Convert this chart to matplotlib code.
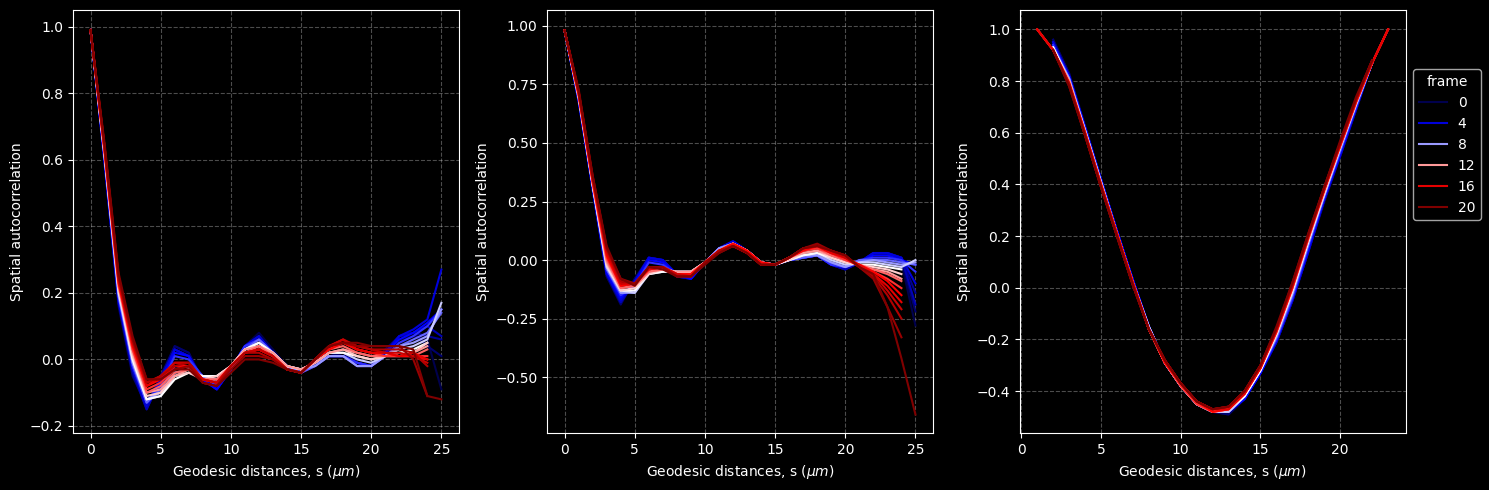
import numpy as np
import matplotlib
matplotlib.use('Agg')
import matplotlib.pyplot as plt
from matplotlib.lines import Line2D

na = np.nan

# frames (hue) and distances
frames = list(range(21))
legend_frames = [0, 4, 8, 12, 16, 20]
dist_ab = list(range(26))
dist_c = list(range(24))

# panel 1: spatial autocorrelation per frame, s = 0..25
corr_a = [
    [0.99, 0.60, 0.17, -0.04, -0.13, -0.06, 0.04, 0.02, -0.06, -0.08, -0.03, 0.04, 0.08, 0.03, -0.02, -0.04, -0.01, 0.02, 0.02, -0.01, -0.02, 0.02, 0.06, 0.07, 0.06, -0.09],
    [0.99, 0.59, 0.16, -0.05, -0.14, -0.05, 0.04, 0.02, -0.07, -0.08, -0.03, 0.04, 0.07, 0.02, -0.02, -0.04, -0.01, 0.02, 0.01, -0.01, -0.02, 0.03, 0.07, 0.08, 0.04, 0.01],
    [0.99, 0.59, 0.17, -0.04, -0.15, -0.05, 0.03, 0.01, -0.06, -0.09, -0.03, 0.04, 0.07, 0.02, -0.02, -0.04, -0.02, 0.01, 0.01, -0.01, -0.02, 0.02, 0.07, 0.08, 0.07, 0.06],
    [0.99, 0.60, 0.17, -0.03, -0.15, -0.06, 0.03, 0.01, -0.06, -0.09, -0.03, 0.04, 0.07, 0.02, -0.02, -0.04, -0.01, 0.01, 0.01, -0.01, -0.02, 0.02, 0.07, 0.08, 0.10, 0.07],
    [0.99, 0.60, 0.18, -0.03, -0.14, -0.06, 0.03, 0.01, -0.06, -0.09, -0.03, 0.04, 0.07, 0.02, -0.02, -0.04, -0.01, 0.01, 0.01, -0.01, -0.02, 0.02, 0.07, 0.09, 0.12, 0.27],
    [0.99, 0.60, 0.18, -0.02, -0.13, -0.07, 0.02, 0.01, -0.06, -0.09, -0.03, 0.04, 0.06, 0.02, -0.02, -0.04, -0.01, 0.01, 0.01, -0.01, -0.02, 0.02, 0.06, 0.08, 0.11, 0.15],
    [0.99, 0.61, 0.19, -0.02, -0.13, -0.08, 0.01, 0.00, -0.05, -0.08, -0.03, 0.04, 0.06, 0.02, -0.02, -0.04, -0.01, 0.01, 0.01, -0.01, -0.02, 0.01, 0.05, 0.07, 0.10, 0.15],
    [0.99, 0.61, 0.19, -0.01, -0.13, -0.09, -0.02, -0.02, -0.05, -0.07, -0.03, 0.03, 0.06, 0.02, -0.02, -0.04, -0.02, 0.01, 0.01, -0.02, -0.02, 0.01, 0.04, 0.06, 0.08, 0.14],
    [0.99, 0.61, 0.20, -0.01, -0.12, -0.10, -0.04, -0.03, -0.05, -0.06, -0.02, 0.03, 0.05, 0.02, -0.02, -0.03, -0.02, 0.01, 0.01, -0.02, -0.02, 0.01, 0.04, 0.05, 0.07, 0.15],
    [0.99, 0.61, 0.20, 0.00, -0.12, -0.11, -0.05, -0.04, -0.05, -0.05, -0.02, 0.03, 0.05, 0.02, -0.02, -0.03, -0.01, 0.02, 0.02, 0.00, -0.01, 0.01, 0.03, 0.04, 0.06, 0.17],
    [0.99, 0.62, 0.21, 0.00, -0.12, -0.11, -0.06, -0.04, -0.05, -0.05, -0.02, 0.03, 0.05, 0.02, -0.02, -0.03, -0.01, 0.02, 0.02, 0.01, 0.00, 0.01, 0.02, 0.03, 0.05, na],
    [0.99, 0.62, 0.21, 0.01, -0.11, -0.10, -0.05, -0.04, -0.06, -0.05, -0.02, 0.03, 0.04, 0.02, -0.02, -0.03, -0.01, 0.02, 0.03, 0.01, 0.00, 0.01, 0.02, 0.02, 0.05, na],
    [0.99, 0.62, 0.22, 0.02, -0.10, -0.09, -0.05, -0.03, -0.06, -0.06, -0.02, 0.03, 0.04, 0.02, -0.02, -0.03, -0.01, 0.02, 0.03, 0.02, 0.01, 0.01, 0.01, 0.02, 0.04, na],
    [0.99, 0.62, 0.22, 0.03, -0.10, -0.08, -0.04, -0.03, -0.06, -0.06, -0.02, 0.02, 0.04, 0.01, -0.03, -0.04, 0.00, 0.03, 0.04, 0.02, 0.01, 0.01, 0.01, 0.01, 0.03, na],
    [0.99, 0.63, 0.23, 0.03, -0.09, -0.07, -0.03, -0.02, -0.06, -0.07, -0.02, 0.02, 0.03, 0.01, -0.03, -0.04, 0.00, 0.03, 0.05, 0.03, 0.02, 0.01, 0.01, 0.01, 0.01, na],
    [0.99, 0.63, 0.23, 0.04, -0.08, -0.06, -0.02, -0.02, -0.06, -0.07, -0.02, 0.02, 0.03, 0.01, -0.03, -0.04, 0.00, 0.03, 0.05, 0.03, 0.02, 0.02, 0.01, 0.01, 0.00, na],
    [0.99, 0.63, 0.24, 0.05, -0.08, -0.05, -0.01, -0.01, -0.06, -0.07, -0.02, 0.02, 0.03, 0.01, -0.03, -0.04, 0.00, 0.04, 0.06, 0.03, 0.02, 0.02, 0.01, 0.02, 0.00, na],
    [0.99, 0.64, 0.24, 0.05, -0.07, -0.05, -0.01, -0.01, -0.06, -0.07, -0.02, 0.02, 0.03, 0.01, -0.03, -0.04, 0.00, 0.04, 0.06, 0.04, 0.03, 0.02, 0.02, 0.01, -0.01, na],
    [0.99, 0.64, 0.25, 0.06, -0.07, -0.05, -0.02, -0.01, -0.07, -0.08, -0.02, 0.02, 0.02, 0.00, -0.03, -0.04, 0.00, 0.04, 0.05, 0.04, 0.03, 0.03, 0.03, 0.02, -0.02, na],
    [0.99, 0.64, 0.25, 0.06, -0.06, -0.06, -0.03, -0.02, -0.07, -0.08, -0.03, 0.01, 0.01, 0.00, -0.03, -0.04, 0.00, 0.04, 0.05, 0.04, 0.04, 0.04, 0.04, 0.00, -0.11, na],
    [0.99, 0.65, 0.26, 0.07, -0.06, -0.06, -0.03, -0.03, -0.07, -0.08, -0.04, 0.00, 0.00, -0.01, -0.03, -0.04, 0.00, 0.04, 0.05, 0.05, 0.04, 0.04, 0.04, 0.03, -0.11, -0.12],
]

# panel 2: s = 0..25
corr_b = [
    [0.98, 0.68, 0.30, -0.07, -0.18, -0.08, 0.01, 0.00, -0.07, -0.08, -0.01, 0.05, 0.08, 0.04, -0.01, -0.02, 0.00, 0.01, 0.02, -0.02, -0.04, -0.01, 0.03, 0.03, -0.01, -0.28],
    [0.98, 0.68, 0.30, -0.07, -0.19, -0.08, 0.01, 0.00, -0.07, -0.08, -0.01, 0.05, 0.08, 0.04, -0.01, -0.02, 0.00, 0.01, 0.02, -0.02, -0.04, -0.01, 0.03, 0.03, 0.00, -0.22],
    [0.98, 0.68, 0.30, -0.06, -0.18, -0.09, 0.01, 0.00, -0.07, -0.08, -0.01, 0.05, 0.08, 0.04, -0.01, -0.02, 0.00, 0.01, 0.02, -0.02, -0.04, -0.01, 0.03, 0.03, 0.01, -0.14],
    [0.98, 0.68, 0.31, -0.06, -0.18, -0.09, 0.01, 0.00, -0.07, -0.08, -0.01, 0.05, 0.08, 0.04, -0.01, -0.02, 0.00, 0.01, 0.02, -0.02, -0.04, -0.01, 0.03, 0.03, 0.01, -0.19],
    [0.98, 0.68, 0.31, -0.06, -0.17, -0.09, 0.01, 0.00, -0.06, -0.08, -0.01, 0.05, 0.08, 0.04, -0.01, -0.02, 0.00, 0.01, 0.02, -0.02, -0.03, -0.01, 0.03, 0.03, 0.01, -0.10],
    [0.98, 0.69, 0.31, -0.05, -0.16, -0.10, 0.00, -0.01, -0.06, -0.08, -0.01, 0.05, 0.07, 0.04, -0.01, -0.02, 0.00, 0.01, 0.02, -0.02, -0.03, -0.01, 0.02, 0.02, 0.00, -0.02],
    [0.98, 0.69, 0.32, -0.04, -0.15, -0.11, -0.01, -0.02, -0.06, -0.07, -0.01, 0.05, 0.07, 0.04, -0.01, -0.02, 0.00, 0.01, 0.02, -0.02, -0.03, 0.00, 0.01, 0.01, 0.00, -0.05],
    [0.98, 0.69, 0.32, -0.04, -0.14, -0.13, -0.03, -0.03, -0.06, -0.06, -0.01, 0.05, 0.07, 0.04, -0.01, -0.02, 0.00, 0.01, 0.02, -0.01, -0.03, 0.00, 0.00, 0.00, -0.01, -0.02],
    [0.98, 0.69, 0.32, -0.03, -0.14, -0.14, -0.05, -0.04, -0.05, -0.05, -0.01, 0.05, 0.07, 0.04, -0.01, -0.02, 0.00, 0.02, 0.02, -0.01, -0.03, -0.01, 0.00, -0.01, -0.02, -0.01],
    [0.98, 0.70, 0.32, -0.03, -0.13, -0.14, -0.06, -0.05, -0.05, -0.05, -0.01, 0.04, 0.07, 0.04, -0.01, -0.02, 0.00, 0.02, 0.03, 0.00, -0.02, -0.01, -0.01, -0.02, -0.03, 0.00],
    [0.98, 0.70, 0.32, -0.02, -0.13, -0.13, -0.06, -0.05, -0.05, -0.05, -0.01, 0.04, 0.07, 0.04, -0.01, -0.02, 0.00, 0.02, 0.03, 0.01, -0.01, -0.02, -0.02, -0.03, -0.04, na],
    [0.98, 0.70, 0.33, -0.02, -0.13, -0.12, -0.06, -0.04, -0.05, -0.05, -0.01, 0.04, 0.07, 0.04, -0.01, -0.02, 0.00, 0.03, 0.04, 0.01, -0.01, -0.02, -0.03, -0.04, -0.06, na],
    [0.98, 0.70, 0.33, -0.01, -0.12, -0.11, -0.05, -0.04, -0.05, -0.05, -0.01, 0.04, 0.07, 0.04, -0.01, -0.02, 0.01, 0.03, 0.04, 0.02, 0.00, -0.02, -0.04, -0.05, -0.08, na],
    [0.98, 0.70, 0.33, 0.00, -0.12, -0.11, -0.05, -0.04, -0.06, -0.06, -0.01, 0.04, 0.07, 0.04, -0.01, -0.02, 0.01, 0.04, 0.05, 0.02, 0.00, -0.02, -0.04, -0.06, -0.09, na],
    [0.98, 0.71, 0.33, 0.01, -0.11, -0.10, -0.04, -0.03, -0.06, -0.06, -0.01, 0.04, 0.07, 0.04, -0.01, -0.02, 0.01, 0.04, 0.05, 0.03, 0.00, -0.02, -0.05, -0.08, -0.12, na],
    [0.98, 0.71, 0.34, 0.02, -0.11, -0.10, -0.04, -0.03, -0.06, -0.06, -0.01, 0.04, 0.07, 0.04, -0.01, -0.02, 0.01, 0.04, 0.06, 0.03, 0.01, -0.02, -0.05, -0.09, -0.15, na],
    [0.98, 0.71, 0.34, 0.03, -0.10, -0.10, -0.04, -0.03, -0.06, -0.07, -0.01, 0.04, 0.06, 0.03, -0.02, -0.02, 0.01, 0.05, 0.06, 0.03, 0.01, -0.02, -0.06, -0.11, -0.18, na],
    [0.98, 0.72, 0.35, 0.04, -0.10, -0.10, -0.03, -0.03, -0.06, -0.07, -0.01, 0.04, 0.06, 0.03, -0.02, -0.02, 0.01, 0.05, 0.06, 0.04, 0.01, -0.03, -0.06, -0.13, -0.21, na],
    [0.98, 0.72, 0.35, 0.05, -0.09, -0.10, -0.03, -0.03, -0.07, -0.07, -0.01, 0.04, 0.06, 0.03, -0.02, -0.02, 0.01, 0.05, 0.06, 0.04, 0.02, -0.03, -0.07, -0.15, -0.25, na],
    [0.98, 0.72, 0.36, 0.05, -0.08, -0.10, -0.03, -0.03, -0.07, -0.07, -0.01, 0.03, 0.06, 0.03, -0.02, -0.02, 0.01, 0.05, 0.07, 0.04, 0.02, -0.03, -0.08, -0.20, -0.33, na],
    [0.98, 0.73, 0.36, 0.06, -0.08, -0.11, -0.03, -0.04, -0.07, -0.07, -0.02, 0.03, 0.06, 0.03, -0.02, -0.02, 0.01, 0.05, 0.06, 0.04, 0.02, -0.03, -0.06, -0.20, -0.42, -0.66],
]

# panel 3: s = 0..23
corr_c = [
    [na, na, 0.96, 0.83, 0.63, 0.42, 0.22, 0.03, -0.15, -0.29, -0.38, -0.45, -0.48, -0.49, -0.43, -0.33, -0.21, -0.05, 0.14, 0.33, 0.51, 0.69, 0.87, na],
    [na, na, 0.96, 0.83, 0.62, 0.42, 0.22, 0.03, -0.15, -0.29, -0.38, -0.45, -0.48, -0.49, -0.43, -0.33, -0.21, -0.05, 0.14, 0.34, 0.51, 0.69, 0.87, na],
    [na, na, 0.95, 0.82, 0.62, 0.42, 0.22, 0.03, -0.15, -0.29, -0.38, -0.45, -0.48, -0.48, -0.43, -0.33, -0.21, -0.05, 0.14, 0.34, 0.52, 0.70, 0.87, na],
    [na, na, 0.95, 0.82, 0.62, 0.42, 0.22, 0.03, -0.15, -0.29, -0.38, -0.45, -0.48, -0.48, -0.43, -0.33, -0.20, -0.04, 0.15, 0.34, 0.52, 0.70, 0.87, na],
    [na, na, 0.95, 0.82, 0.62, 0.42, 0.22, 0.03, -0.15, -0.29, -0.38, -0.45, -0.48, -0.48, -0.43, -0.33, -0.21, -0.05, 0.14, 0.34, 0.51, 0.69, 0.88, na],
    [na, na, 0.94, 0.82, 0.62, 0.41, 0.22, 0.03, -0.15, -0.29, -0.38, -0.45, -0.48, -0.48, -0.43, -0.33, -0.20, -0.04, 0.15, 0.35, 0.52, 0.70, 0.87, na],
    [na, na, 0.94, 0.81, 0.61, 0.41, 0.21, 0.02, -0.15, -0.29, -0.38, -0.45, -0.48, -0.48, -0.42, -0.32, -0.20, -0.04, 0.16, 0.35, 0.53, 0.70, 0.87, na],
    [na, na, 0.93, 0.81, 0.61, 0.41, 0.21, 0.02, -0.15, -0.29, -0.38, -0.45, -0.48, -0.48, -0.42, -0.32, -0.19, -0.03, 0.17, 0.36, 0.53, 0.71, 0.87, na],
    [na, na, 0.93, 0.81, 0.61, 0.41, 0.21, 0.02, -0.15, -0.29, -0.38, -0.45, -0.48, -0.48, -0.42, -0.32, -0.19, -0.02, 0.17, 0.36, 0.54, 0.71, 0.87, na],
    [na, na, 0.93, 0.80, 0.61, 0.41, 0.21, 0.02, -0.15, -0.29, -0.38, -0.45, -0.48, -0.48, -0.42, -0.32, -0.18, -0.02, 0.18, 0.36, 0.54, 0.71, 0.87, na],
    [na, na, 0.93, 0.80, 0.60, 0.40, 0.21, 0.02, -0.16, -0.29, -0.38, -0.45, -0.48, -0.47, -0.42, -0.32, -0.18, -0.01, 0.18, 0.37, 0.55, 0.72, 0.87, na],
    [na, na, 0.92, 0.80, 0.60, 0.40, 0.21, 0.02, -0.16, -0.29, -0.38, -0.45, -0.48, -0.47, -0.41, -0.31, -0.18, -0.01, 0.19, 0.37, 0.55, 0.72, 0.87, na],
    [na, na, 0.92, 0.80, 0.60, 0.40, 0.21, 0.02, -0.16, -0.29, -0.38, -0.45, -0.48, -0.47, -0.41, -0.31, -0.17, 0.00, 0.19, 0.37, 0.55, 0.72, 0.87, na],
    [na, 1.00, 0.92, 0.80, 0.60, 0.40, 0.21, 0.02, -0.16, -0.29, -0.38, -0.45, -0.48, -0.47, -0.41, -0.31, -0.17, 0.00, 0.19, 0.38, 0.55, 0.72, 0.87, 1.00],
    [na, 1.00, 0.92, 0.79, 0.60, 0.40, 0.21, 0.02, -0.16, -0.29, -0.38, -0.45, -0.48, -0.47, -0.41, -0.31, -0.17, 0.00, 0.19, 0.38, 0.55, 0.72, 0.87, 1.00],
    [na, 1.00, 0.92, 0.79, 0.60, 0.40, 0.21, 0.02, -0.16, -0.29, -0.37, -0.44, -0.48, -0.47, -0.41, -0.31, -0.17, 0.00, 0.20, 0.38, 0.55, 0.72, 0.87, 1.00],
    [na, 1.00, 0.92, 0.79, 0.60, 0.40, 0.21, 0.02, -0.16, -0.28, -0.37, -0.44, -0.47, -0.47, -0.41, -0.31, -0.16, 0.01, 0.20, 0.38, 0.56, 0.73, 0.87, 1.00],
    [na, na, 0.92, 0.79, 0.59, 0.39, 0.20, 0.01, -0.16, -0.28, -0.37, -0.44, -0.47, -0.46, -0.40, -0.30, -0.16, 0.01, 0.20, 0.38, 0.56, 0.73, 0.88, na],
    [na, na, 0.92, 0.79, 0.59, 0.39, 0.20, 0.01, -0.16, -0.28, -0.37, -0.44, -0.47, -0.46, -0.40, -0.30, -0.16, 0.01, 0.20, 0.39, 0.56, 0.73, 0.88, na],
    [na, na, 0.92, 0.78, 0.59, 0.39, 0.20, 0.01, -0.16, -0.28, -0.37, -0.44, -0.47, -0.46, -0.40, -0.30, -0.16, 0.02, 0.21, 0.39, 0.56, 0.73, 0.88, na],
    [na, na, 0.92, 0.78, 0.59, 0.39, 0.20, 0.01, -0.16, -0.28, -0.37, -0.44, -0.47, -0.46, -0.40, -0.30, -0.15, 0.02, 0.21, 0.39, 0.57, 0.74, 0.88, na],
]

plt.style.use('dark_background')
cmap = plt.get_cmap('seismic')
fmax = max(frames)

fig = plt.figure(figsize=(14.89, 4.9), dpi=100)
ax1 = fig.add_axes([0.0490, 0.1157, 0.2592, 0.8639])
ax2 = fig.add_axes([0.3674, 0.1157, 0.2592, 0.8639])
ax3 = fig.add_axes([0.6848, 0.1157, 0.2592, 0.8639])

panels = [
    (ax1, dist_ab, corr_a, (-1.25, 26.25), (-0.222, 1.05)),
    (ax2, dist_ab, corr_b, (-1.25, 26.25), (-0.74, 1.068)),
    (ax3, dist_c, corr_c, (-0.1, 24.1), (-0.563, 1.075)),
]

for ax, dist, corr, xl, yl in panels:
    for f, row in zip(frames, corr):
        ax.plot(dist, row, color=cmap(f / fmax), linewidth=1.5)
    ax.set_xlim(*xl)
    ax.set_ylim(*yl)
    ax.grid(True, linestyle='--', color='white', alpha=0.3)
    ax.set_xlabel(r'Geodesic distances, s ($\mu m$)')
    ax.set_ylabel('Spatial autocorrelation')

# legend only for a subset of frames
handles = [Line2D([0], [0], color=cmap(f / fmax), linewidth=1.5) for f in legend_frames]
ax3.legend(handles, [str(f) for f in legend_frames], title='frame',
           loc='upper left', bbox_to_anchor=(1.002, 0.876))

fig.savefig('out.png', dpi=100, facecolor='black')
